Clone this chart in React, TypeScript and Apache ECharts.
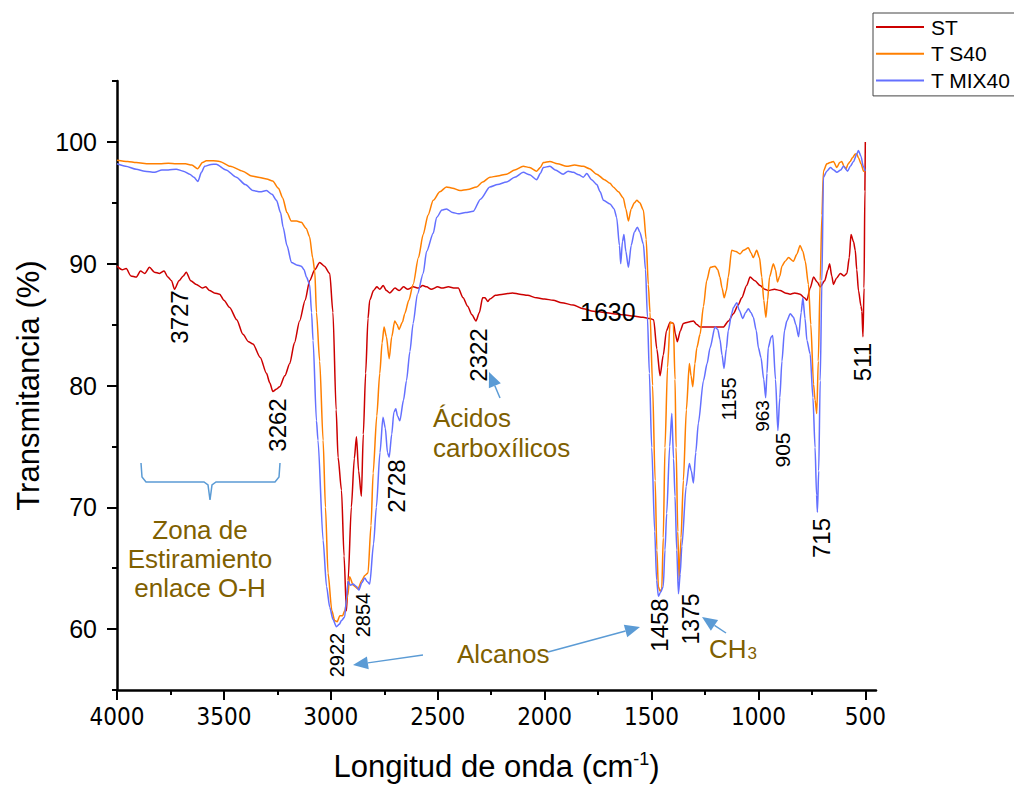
import React, { useEffect, useRef } from 'react';
import * as echarts from 'echarts';

// ---------- DATA ----------
const seriesNames = ['ST', 'T S40', 'T MIX40'];

const stWave = [4000, 3975, 3957, 3935, 3910, 3890, 3870, 3848, 3825, 3801, 3780, 3762, 3745, 3731, 3710, 3690, 3676, 3655, 3629, 3600, 3585, 3567, 3545, 3520, 3500, 3473, 3440, 3411, 3385, 3364, 3330, 3301, 3285, 3271, 3255, 3239, 3215, 3192, 3170, 3146, 3120, 3099, 3075, 3052, 3030, 3005, 2990, 2975, 2966, 2950, 2938, 2927, 2919, 2904, 2890, 2880, 2870, 2857, 2848, 2837, 2826, 2818, 2800, 2785, 2771, 2755, 2740, 2724, 2700, 2680, 2660, 2640, 2615, 2590, 2570, 2552, 2530, 2500, 2480, 2450, 2420, 2404, 2381, 2360, 2340, 2321, 2305, 2290, 2279, 2265, 2256, 2230, 2194, 2150, 2116, 2080, 2037, 2000, 1960, 1920, 1866, 1820, 1772, 1720, 1679, 1630, 1585, 1540, 1507, 1490, 1475, 1460, 1445, 1430, 1413, 1397, 1388, 1379, 1365, 1351, 1330, 1304, 1288, 1273, 1240, 1195, 1164, 1140, 1117, 1095, 1078, 1055, 1039, 1016, 992, 970, 953, 925, 898, 875, 851, 830, 805, 785, 773, 758, 742, 725, 711, 690, 675, 667, 657, 649, 635, 617, 600, 586, 575, 567, 555, 547, 540, 532, 520, 516, 511, 506, 502, 500];
const stT = [89.8, 89.5, 89.6, 89.0, 88.9, 89.4, 89.2, 89.7, 89.3, 89.2, 89.4, 88.9, 88.6, 87.9, 88.6, 89.0, 89.3, 88.6, 88.3, 88.0, 88.1, 87.8, 87.6, 87.5, 87.0, 86.4, 85.4, 84.2, 83.6, 83.4, 82.3, 81.0, 80.2, 79.5, 79.7, 79.9, 80.8, 81.8, 83.5, 85.3, 87.0, 88.6, 89.5, 90.1, 89.8, 89.2, 86.0, 78.0, 74.1, 71.4, 66.0, 61.5, 64.0, 70.0, 74.0, 75.8, 73.0, 70.9, 76.0, 81.0, 85.5, 87.0, 87.8, 88.1, 87.9, 88.2, 87.8, 87.6, 88.0, 87.8, 88.1, 87.9, 88.1, 88.0, 88.2, 88.1, 87.9, 88.1, 88.0, 88.1, 88.0, 88.0, 87.2, 86.5, 85.8, 85.3, 86.0, 87.2, 87.2, 86.9, 87.1, 87.4, 87.5, 87.6, 87.5, 87.4, 87.2, 87.1, 87.0, 86.8, 86.6, 86.3, 86.1, 86.0, 85.9, 85.8, 85.7, 85.6, 85.5, 85.4, 83.0, 80.8, 82.5, 84.5, 85.2, 85.1, 84.2, 83.6, 84.5, 85.1, 85.2, 85.3, 85.0, 84.8, 84.8, 84.8, 84.8, 85.3, 85.9, 86.6, 87.2, 88.2, 88.9, 88.6, 88.2, 87.9, 87.8, 87.9, 87.8, 87.6, 87.5, 87.6, 87.5, 87.2, 87.0, 88.0, 88.9, 88.5, 88.1, 88.6, 89.5, 90.0, 89.0, 88.3, 88.8, 89.2, 89.0, 89.2, 90.5, 92.4, 91.8, 91.1, 89.5, 87.8, 86.5, 86.1, 84.0, 88.0, 96.0, 100.0];

const s40Wave = [4000, 3950, 3910, 3850, 3800, 3760, 3723, 3680, 3650, 3623, 3600, 3582, 3550, 3520, 3470, 3412, 3370, 3333, 3300, 3272, 3245, 3225, 3205, 3185, 3160, 3138, 3115, 3099, 3085, 3075, 3067, 3052, 3036, 3025, 3013, 2995, 2982, 2970, 2958, 2945, 2935, 2920, 2912, 2895, 2873, 2855, 2841, 2826, 2812, 2802, 2785, 2771, 2760, 2751, 2740, 2727, 2715, 2701, 2690, 2681, 2665, 2654, 2635, 2615, 2590, 2568, 2545, 2521, 2490, 2459, 2430, 2396, 2360, 2318, 2290, 2256, 2220, 2178, 2140, 2100, 2070, 2037, 2020, 2006, 1975, 1940, 1897, 1860, 1819, 1790, 1756, 1720, 1694, 1679, 1655, 1632, 1620, 1608, 1595, 1580, 1569, 1555, 1538, 1525, 1515, 1507, 1495, 1483, 1475, 1468, 1460, 1452, 1445, 1437, 1425, 1413, 1398, 1390, 1385, 1377, 1371, 1362, 1351, 1337, 1323, 1315, 1307, 1297, 1288, 1273, 1257, 1242, 1225, 1203, 1190, 1180, 1170, 1160, 1150, 1141, 1125, 1105, 1086, 1070, 1047, 1035, 1024, 1008, 995, 984, 975, 965, 957, 948, 930, 920, 911, 900, 890, 875, 859, 836, 820, 805, 792, 781, 766, 755, 742, 735, 727, 720, 711, 703, 696, 680, 665, 649, 633, 620, 610, 600, 590, 580, 571, 560, 547, 540, 532, 520, 508, 500];
const s40T = [98.5, 98.4, 98.3, 98.2, 98.2, 98.25, 98.2, 98.2, 98.1, 97.8, 98.3, 98.45, 98.45, 98.4, 98.0, 97.6, 97.2, 97.07, 96.95, 96.8, 96.2, 95.4, 94.2, 93.5, 93.5, 93.4, 92.9, 92.2, 90.5, 89.4, 86.0, 82.0, 75.5, 70.0, 64.6, 61.5, 60.7, 60.6, 61.1, 61.1, 61.5, 62.8, 64.3, 63.6, 63.3, 64.0, 64.4, 64.6, 68.5, 72.8, 77.5, 81.0, 83.5, 84.8, 84.0, 82.2, 84.0, 85.3, 85.0, 84.6, 85.2, 85.9, 87.0, 88.3, 90.5, 92.4, 94.0, 95.2, 95.9, 96.3, 96.2, 96.0, 96.1, 96.3, 96.7, 97.1, 97.2, 97.35, 97.7, 98.0, 97.9, 97.6, 97.9, 98.3, 98.4, 98.2, 98.0, 98.1, 98.0, 97.8, 97.35, 96.9, 96.6, 96.3, 95.9, 95.4, 94.5, 93.5, 94.5, 95.0, 95.2, 95.0, 94.4, 92.0, 88.3, 86.0, 80.0, 72.2, 66.5, 63.5, 63.1, 63.3, 67.5, 74.9, 81.5, 85.2, 85.1, 80.5, 74.9, 68.0, 64.0, 67.5, 72.2, 78.0, 81.8, 80.8, 79.9, 81.8, 83.1, 84.2, 86.5, 88.6, 89.7, 89.8, 89.5, 88.9, 88.0, 87.2, 87.8, 88.9, 91.1, 91.0, 90.8, 91.1, 91.3, 90.9, 90.5, 91.1, 90.5, 88.9, 87.0, 85.6, 87.0, 88.9, 90.0, 89.5, 88.5, 89.0, 89.8, 90.2, 90.5, 90.2, 90.8, 91.5, 91.0, 90.2, 88.3, 85.0, 80.1, 78.8, 77.7, 82.0, 88.6, 94.0, 97.6, 98.2, 98.3, 98.4, 97.9, 98.3, 98.4, 98.0, 97.8, 98.2, 98.4, 98.7, 99.0, 99.0, 98.7, 98.2, 97.6, 97.6];

const mixWave = [4000, 3960, 3910, 3870, 3824, 3790, 3760, 3723, 3690, 3660, 3640, 3622, 3605, 3590, 3560, 3536, 3490, 3442, 3400, 3364, 3330, 3301, 3275, 3254, 3235, 3223, 3205, 3184, 3160, 3138, 3125, 3114, 3099, 3090, 3083, 3067, 3060, 3036, 3020, 3005, 2990, 2974, 2960, 2950, 2935, 2927, 2919, 2908, 2896, 2880, 2869, 2855, 2841, 2830, 2818, 2800, 2787, 2770, 2756, 2745, 2735, 2727, 2715, 2705, 2696, 2688, 2677, 2660, 2646, 2630, 2615, 2595, 2568, 2552, 2521, 2505, 2480, 2459, 2430, 2404, 2370, 2334, 2300, 2256, 2220, 2178, 2140, 2100, 2070, 2037, 2020, 2006, 1975, 1950, 1913, 1890, 1866, 1840, 1819, 1803, 1780, 1756, 1740, 1725, 1694, 1675, 1663, 1650, 1644, 1636, 1629, 1620, 1608, 1595, 1580, 1566, 1555, 1538, 1528, 1519, 1510, 1499, 1485, 1476, 1468, 1458, 1445, 1437, 1429, 1415, 1405, 1397, 1390, 1382, 1374, 1366, 1358, 1338, 1323, 1314, 1304, 1293, 1281, 1257, 1240, 1226, 1203, 1190, 1180, 1170, 1161, 1150, 1141, 1125, 1117, 1101, 1090, 1073, 1060, 1047, 1035, 1024, 1010, 1000, 988, 975, 966, 960, 954, 940, 933, 920, 909, 900, 890, 878, 867, 851, 836, 825, 812, 800, 792, 782, 773, 758, 745, 735, 728, 724, 718, 711, 703, 696, 680, 663, 648, 633, 615, 602, 583, 570, 555, 540, 532, 520, 510, 500];
const mixT = [98.2, 98.0, 97.76, 97.6, 97.5, 97.7, 97.7, 97.76, 97.6, 97.35, 97.1, 96.75, 97.5, 98.0, 98.15, 98.17, 97.7, 97.1, 96.5, 96.0, 95.9, 96.0, 95.7, 95.2, 94.2, 93.0, 91.5, 90.1, 89.9, 89.8, 89.5, 88.9, 88.3, 86.0, 83.7, 77.1, 75.5, 67.3, 63.5, 61.8, 60.8, 60.2, 60.4, 60.7, 61.0, 62.5, 63.9, 63.6, 63.7, 63.5, 63.2, 63.8, 64.2, 63.9, 63.7, 67.0, 70.0, 74.5, 77.4, 76.5, 74.5, 74.1, 76.0, 77.8, 78.1, 77.5, 77.1, 78.8, 80.4, 82.8, 85.1, 87.5, 89.2, 91.0, 92.5, 93.8, 94.4, 94.5, 94.2, 94.1, 94.2, 94.3, 95.3, 96.3, 96.5, 96.7, 97.1, 97.5, 97.3, 96.9, 97.4, 97.9, 98.0, 97.7, 97.35, 97.6, 97.5, 97.3, 97.1, 97.4, 96.9, 96.5, 95.9, 95.2, 94.9, 94.5, 93.8, 91.5, 90.0, 91.8, 92.4, 91.0, 89.7, 91.5, 92.6, 93.0, 92.6, 91.6, 89.5, 85.6, 81.0, 74.9, 68.0, 64.0, 62.7, 63.0, 63.5, 66.5, 69.5, 75.0, 77.7, 74.0, 70.9, 66.5, 62.9, 64.5, 66.8, 71.7, 73.6, 73.0, 72.0, 74.5, 76.9, 80.4, 81.8, 83.1, 84.8, 84.6, 83.8, 82.5, 81.4, 83.0, 84.5, 85.9, 86.4, 86.8, 86.2, 85.5, 86.0, 86.3, 86.0, 85.6, 84.5, 83.1, 82.3, 80.5, 79.0, 81.0, 83.1, 84.0, 84.1, 80.5, 76.3, 79.0, 82.0, 84.5, 85.3, 85.9, 85.6, 85.0, 84.0, 86.0, 87.2, 85.5, 83.7, 82.6, 79.0, 74.9, 71.0, 69.6, 73.0, 80.4, 88.6, 97.1, 97.6, 97.9, 97.7, 97.5, 97.7, 98.0, 97.6, 98.0, 98.4, 99.0, 99.3, 98.8, 98.0, 97.6];

const xLabelValues = [4000, 3500, 3000, 2500, 2000, 1500, 1000, 500];
const xMinorValues = [3750, 3250, 2750, 2250, 1750, 1250, 750];
const yLabelValues = [60, 70, 80, 90, 100];
const yMinorValues = [55, 65, 75, 85, 95, 105];

const peakLabels = ['3727', '3262', '2922', '2854', '2728', '2322', '1458', '1375', '1155', '963', '905', '715', '511'];

// ---------- LAYOUT / STYLE ----------
const COLORS = ['#CC0000', '#FF7F00', '#6470FF'];
const FONT = "'Liberation Sans', Arial, Helvetica, sans-serif";
const NARROW = "'Liberation Sans Narrow', 'Arial Narrow', 'DejaVu Sans Condensed', 'Liberation Sans', sans-serif";
const BROWN = '#7F6000';
const ARROW = '#5B9BD5';

// rotated peak label placement: [centerX, centerY, fontSize]
const peakPlace: Record<string, [number, number, number]> = {
  '3727': [179, 317, 24],
  '3262': [277, 425, 24],
  '2922': [337, 655, 20],
  '2854': [363, 615, 20],
  '2728': [396, 486, 24],
  '2322': [478, 355, 24],
  '1458': [659, 625, 24],
  '1375': [691, 619, 23],
  '1155': [729, 399, 20],
  '963': [762, 416, 19],
  '905': [782, 450, 21],
  '715': [821, 538, 24],
  '511': [862, 362, 24],
};

function zip(w: number[], t: number[]) {
  return w.map((v, i) => [v, t[i]]);
}

function arrow(x1: number, y1: number, x2: number, y2: number) {
  const dx = x2 - x1, dy = y2 - y1;
  const len = Math.sqrt(dx * dx + dy * dy);
  const ux = dx / len, uy = dy / len;
  const hl = 15, hw = 6.5;
  const bx = x2 - ux * hl, by = y2 - uy * hl;
  return {
    type: 'group',
    children: [
      { type: 'line', shape: { x1, y1, x2: bx, y2: by }, style: { stroke: ARROW, lineWidth: 1.5 } },
      {
        type: 'polygon',
        shape: { points: [[x2, y2], [bx - uy * hw, by + ux * hw], [bx + uy * hw, by - ux * hw]] },
        style: { fill: ARROW },
      },
    ],
  };
}

export default function App() {
  const ref = useRef<HTMLDivElement>(null);

  useEffect(() => {
    if (!ref.current) return;
    const chart = echarts.init(ref.current, null, { renderer: 'svg' });

    const rotated = peakLabels.map((t) => {
      const [x, y, fs] = peakPlace[t];
      return {
        type: 'text',
        x, y,
        rotation: Math.PI / 2,
        style: { text: t, fontSize: fs, fontFamily: FONT, fill: '#000', align: 'center', verticalAlign: 'middle' },
        z: 50,
      };
    });

    const option: any = {
      animation: false,
      backgroundColor: '#fff',
      grid: { left: 117, right: 138, top: 81, bottom: 99, containLabel: false },
      legend: {
        orient: 'vertical',
        left: 873,
        top: 13,
        icon: 'rect',
        itemWidth: 48,
        itemHeight: 2,
        itemGap: 5.7,
        padding: [3.5, 30, 5, 3],
        borderColor: '#444',
        borderWidth: 1,
        backgroundColor: '#fff',
        textStyle: { fontSize: 21, color: '#000', fontFamily: FONT, padding: [0, 0, 0, 2] },
        data: seriesNames,
      },
      xAxis: [
        {
          type: 'value',
          min: 450,
          max: 4000,
          inverse: true,
          position: 'bottom',
          name: 'Longitud de onda (cm{sup|-1})',
          nameLocation: 'middle',
          nameGap: 60,
          nameTextStyle: {
            fontSize: 31, fontFamily: FONT, color: '#000',
            rich: { sup: { fontSize: 18, verticalAlign: 'top', fontFamily: FONT, color: '#000', padding: [0, 0, 14, 0] } },
          },
          splitLine: { show: false },
          axisLine: { show: true, onZero: false, lineStyle: { color: '#000', width: 2.5 } },
          axisTick: { show: true, inside: false, length: 10, customValues: xLabelValues, lineStyle: { color: '#000', width: 2 } },
          axisLabel: {
            show: true, customValues: xLabelValues, margin: 15, fontSize: 24, fontFamily: NARROW, color: '#000',
            formatter: (v: number) => String(v),
          },
        },
        {
          type: 'value',
          min: 450,
          max: 4000,
          inverse: true,
          position: 'bottom',
          splitLine: { show: false },
          axisLine: { show: false, onZero: false },
          axisTick: { show: true, inside: false, length: 5, customValues: xMinorValues, lineStyle: { color: '#000', width: 2 } },
          axisLabel: { show: false },
        },
      ],
      yAxis: [
        {
          type: 'value',
          min: 55,
          max: 105,
          position: 'left',
          name: 'Transmitancia (%)',
          nameLocation: 'middle',
          nameGap: 72,
          nameTextStyle: { fontSize: 31, fontFamily: FONT, color: '#000' },
          splitLine: { show: false },
          axisLine: { show: true, onZero: false, lineStyle: { color: '#000', width: 2.5 } },
          axisTick: { show: true, inside: false, length: 10, customValues: yLabelValues, lineStyle: { color: '#000', width: 2 } },
          axisLabel: {
            show: true, customValues: yLabelValues, margin: 20, fontSize: 25, fontFamily: FONT, color: '#000',
            formatter: (v: number) => String(v),
          },
        },
        {
          type: 'value',
          min: 55,
          max: 105,
          position: 'left',
          splitLine: { show: false },
          axisLine: { show: false, onZero: false },
          axisTick: { show: true, inside: false, length: 5, customValues: yMinorValues, lineStyle: { color: '#000', width: 2 } },
          axisLabel: { show: false },
        },
      ],
      series: [
        { name: seriesNames[0], data: zip(stWave, stT), color: COLORS[0] },
        { name: seriesNames[1], data: zip(s40Wave, s40T), color: COLORS[1] },
        { name: seriesNames[2], data: zip(mixWave, mixT), color: COLORS[2] },
      ].map((s) => ({
        type: 'line',
        name: s.name,
        data: s.data,
        xAxisIndex: 0,
        yAxisIndex: 0,
        symbol: 'none',
        smooth: 0.25,
        smoothMonotone: 'x',
        clip: true,
        lineStyle: { color: s.color, width: 1.5 },
        itemStyle: { color: s.color },
      })),
      graphic: [
        ...rotated,
        {
          type: 'text', x: 580, y: 312, z: 50,
          style: { text: '1630', fontSize: 25, fontFamily: FONT, fill: '#000', align: 'left', verticalAlign: 'middle' },
        },
        {
          type: 'text', x: 200, y: 559, z: 50,
          style: { text: 'Zona de\nEstiramiento\nenlace O-H', fontSize: 26, lineHeight: 29, fontFamily: FONT, fill: BROWN, align: 'center', verticalAlign: 'middle' },
        },
        {
          type: 'text', x: 433, y: 433, z: 50,
          style: { text: 'Ácidos\ncarboxílicos', fontSize: 26, lineHeight: 30, fontFamily: FONT, fill: BROWN, align: 'left', verticalAlign: 'middle' },
        },
        {
          type: 'text', x: 457, y: 654, z: 50,
          style: { text: 'Alcanos', fontSize: 26, fontFamily: FONT, fill: BROWN, align: 'left', verticalAlign: 'middle' },
        },
        {
          type: 'text', x: 709, y: 648, z: 50,
          style: {
            text: '{a|CH}{b|3}', align: 'left', verticalAlign: 'middle',
            rich: {
              a: { fontSize: 26, fontFamily: FONT, fill: BROWN, color: BROWN, verticalAlign: 'bottom', lineHeight: 28 },
              b: { fontSize: 17, fontFamily: FONT, fill: BROWN, color: BROWN, verticalAlign: 'bottom', lineHeight: 28, padding: [0, 0, 0, 1] },
            },
          },
        },
        arrow(423, 655, 353, 665),
        arrow(548, 652, 640, 627),
        arrow(726, 633, 702, 617),
        arrow(500, 398, 489, 372),
        {
          type: 'polyline', z: 50,
          shape: {
            points: [[141, 463], [142, 477], [146, 482], [204, 482], [208, 485], [210, 500], [212, 485], [216, 482], [275, 482], [279, 477], [280, 463]],
          },
          style: { stroke: ARROW, lineWidth: 1.5, fill: 'none' },
        },
      ],
    };

    chart.setOption(option);
    return () => chart.dispose();
  }, []);

  return (
    <div
      ref={ref}
      style={{ position: 'fixed', left: 0, top: 0, width: 1014, height: 789, background: '#fff' }}
    />
  );
}
